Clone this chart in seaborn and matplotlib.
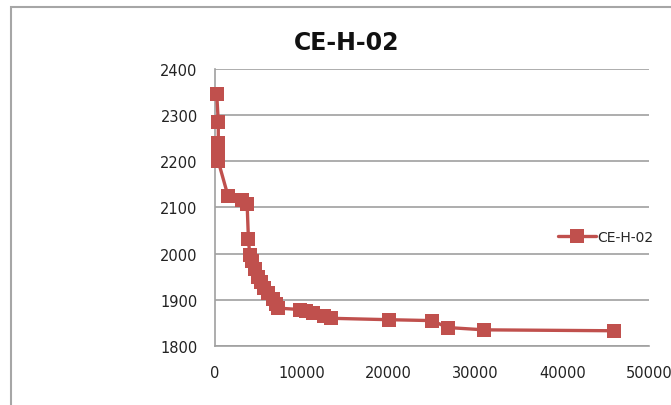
import matplotlib
matplotlib.use("Agg")
import matplotlib.pyplot as plt
import seaborn as sns
import pandas as pd
from matplotlib.patches import Rectangle

# Data
time_x = [200, 380, 380, 380, 380, 1500, 3100, 3700, 3850, 4000, 4300, 4600,
          5000, 5300, 5700, 6100, 6700, 7000, 7300, 9800, 10500, 11300, 12500,
          13400, 20000, 25000, 26800, 31000, 46000]
values_y = [2345, 2285, 2240, 2230, 2200, 2125, 2117, 2108, 2032, 1998, 1985,
            1967, 1950, 1938, 1925, 1915, 1902, 1890, 1882, 1879, 1876, 1872,
            1866, 1860, 1857, 1855, 1840, 1835, 1833]
series_name = "CE-H-02"
x_ticks = [0, 10000, 20000, 30000, 40000, 50000]
y_ticks = [1800, 1900, 2000, 2100, 2200, 2300, 2400]

df = pd.DataFrame({"x": time_x, "y": values_y, "series": series_name})

sns.set_theme(style="white")
plt.rcParams["font.family"] = ["DejaVu Sans"]

W, H = 671, 406
fig = plt.figure(figsize=(W / 100, H / 100), dpi=100)
ax = fig.add_axes([215 / W, 1 - 347 / H, 434 / W, 277 / H])

color = "#C0504D"
sns.lineplot(data=df, x="x", y="y", hue="series", palette=[color],
             estimator=None, sort=False, marker="s", markersize=10,
             markeredgewidth=0, linewidth=2.4, ax=ax, legend=True)
for ln in ax.lines:
    ln.set_clip_on(False)
    ln.set_zorder(3)

ax.set_xlim(0, 50000)
ax.set_ylim(1800, 2400)
ax.set_xticks(x_ticks)
ax.set_yticks(y_ticks)
ax.set_xticklabels([str(v) for v in x_ticks])
ax.set_yticklabels([str(v) for v in y_ticks])
ax.set_xlabel("")
ax.set_ylabel("")

ax.grid(axis="y", color="#A0A0A0", linewidth=1.2)
ax.grid(axis="x", visible=False)
ax.set_axisbelow(True)
for s in ["top", "right"]:
    ax.spines[s].set_visible(False)
for s in ["left", "bottom"]:
    ax.spines[s].set_color("#A0A0A0")
    ax.spines[s].set_linewidth(1.2)
    ax.spines[s].set_zorder(2)

ax.tick_params(axis="both", which="major", direction="out", length=4.5,
               width=1.0, color="#A0A0A0", labelsize=10.5, labelcolor="#222222")
ax.tick_params(axis="y", pad=8)
ax.tick_params(axis="x", pad=9)

ax.get_legend().remove()
handles, labels = ax.get_legend_handles_labels()
fig.legend(handles, [series_name], loc="center left",
           bbox_to_anchor=(558 / W, 1 - 238 / H), frameon=False,
           fontsize=10, handlelength=2.7, handletextpad=0.15, borderpad=0,
           borderaxespad=0)

fig.text(347 / W, 1 - 43 / H, "CE-H-02", ha="center", va="center",
         fontsize=17, fontweight="bold", color="#111111")

# outer chart border (Excel style)
fig.patches.append(Rectangle((11 / W, -0.1), 1.2, 1 - 8 / H + 0.1,
                             transform=fig.transFigure, fill=False,
                             edgecolor="#A6A6A6", linewidth=1.5))

fig.savefig("out.png", dpi=100)
